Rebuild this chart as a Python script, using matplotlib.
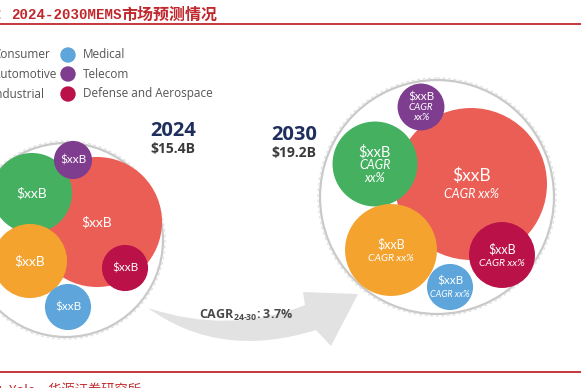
import numpy as np
import matplotlib
matplotlib.use("Agg")
import matplotlib.pyplot as plt
from matplotlib.patches import Circle, PathPatch
from matplotlib.path import Path

# ---------------- data ----------------
categories = ["Consumer", "Automotive", "Industrial", "Medical", "Telecom", "Defense and Aerospace"]
years = ["2024", "2030"]
totals = ["$15.4B", "$19.2B"]
cagr_total = "3.7%"
# estimated segment sizes ($B)
values_2024 = [7.55, 2.86, 2.45, 0.95, 0.65, 0.95]
values_2030 = [9.35, 2.92, 3.42, 0.86, 0.89, 1.76]
seg_label = "$xxB"
seg_cagr = "xx%"

# ---------------- style / layout ----------------
colors = ["#EB5E55", "#45B060", "#F4A32F", "#5DA5DA", "#7E3D8E", "#BA1149"]
centers_2024 = [(97, 222), (32, 193), (30, 261), (68, 307), (73, 160), (125, 268)]
centers_2030 = [(471, 184), (375, 164), (391, 250), (450, 287), (421, 107), (502, 255)]
scale_2024 = 23.66
scale_2030 = 24.85
ring_2024 = ((66, 240), 97)
ring_2030 = ((437, 197), 117)

RED = "#C0282D"
NAVY = "#1E2F5E"

fig = plt.figure(figsize=(5.81, 3.88), dpi=100)
ax = fig.add_axes([0, 0, 1, 1])
ax.set_xlim(0, 581)
ax.set_ylim(388, 0)
ax.set_aspect("equal")
ax.axis("off")

# title
ax.text(-4, 15, "：", color=RED, fontsize=10, family=["Noto Sans CJK SC"], va="center", ha="left")
ax.text(11, 15, "2024-2030MEMS", color=RED, fontsize=10.2, family=["Liberation Mono"],
        fontweight="bold", va="center", ha="left")
ax.text(121, 15, "市场预测情况", color=RED, fontsize=11.5, family=["Noto Sans CJK SC"],
        fontweight="bold", va="center", ha="left")
ax.plot([0, 581], [24, 24], color=RED, lw=1.3)
ax.plot([0, 581], [372, 372], color=RED, lw=1.3)
ax.text(-3, 391, "：Yole，华源证券研究所", color=RED, fontsize=9.5,
        family=["Noto Sans CJK SC", "DejaVu Sans"], va="center", ha="left")

# legend
leg_rows = [55, 74, 94]
for i in range(3):
    ax.add_patch(Circle((-20, leg_rows[i]), 7, color=colors[i]))
    ax.text(-7, leg_rows[i], categories[i], fontsize=8.5, color="#555555",
            family="Open Sans", va="center", ha="left")
    ax.add_patch(Circle((68, leg_rows[i]), 7, color=colors[i + 3]))
    ax.text(83, leg_rows[i], categories[i + 3], fontsize=8.5, color="#555555",
            family="Open Sans", va="center", ha="left")

# rings
for (c, r) in [ring_2024, ring_2030]:
    ax.add_patch(Circle(c, r, fill=False, edgecolor="#c9c9c9", lw=1.6))
    ax.add_patch(Circle(c, r + 2, fill=False, edgecolor="#e3e3e3", lw=1.0, ls=(0, (2, 2))))

# arrow (decorative swoosh)
verts = [(148, 308), (230, 335), (305, 305), (303, 292), (358, 294), (331, 346),
         (316, 330), (220, 360), (148, 308), (148, 308)]
codes = [Path.MOVETO, Path.CURVE3, Path.CURVE3, Path.LINETO, Path.LINETO, Path.LINETO,
         Path.LINETO, Path.CURVE3, Path.CURVE3, Path.CLOSEPOLY]
ax.add_patch(PathPatch(Path(verts, codes), facecolor="#e2e2e2", edgecolor="none"))

plt.rcParams["mathtext.fontset"] = "custom"
plt.rcParams["mathtext.rm"] = "Open Sans:bold"
ax.text(246, 315, r"CAGR$_{\mathrm{24\text{-}30}}$: " + cagr_total, fontsize=9, color="#4a4a4a",
        family="Open Sans", fontweight="bold", va="center", ha="center")

# bubbles 2024
main_fs_2024 = [10, 10, 10, 8.5, 8.5, 8.5]
for v, (cx, cy), col, fs in zip(values_2024, centers_2024, colors, main_fs_2024):
    r = scale_2024 * np.sqrt(v)
    ax.add_patch(Circle((cx, cy), r, color=col, lw=0))
    ax.text(cx, cy, seg_label.replace("$", r"\$"), color="white", fontsize=fs, family="Lato",
            va="center", ha="center")

# bubbles 2030
main_fs_2030 = [12.5, 10.5, 9, 8.5, 8.5, 9]
cagr_fs_2030 = [9, 9, 7.5, 6.5, 7, 7.5]
for i, (v, (cx, cy), col) in enumerate(zip(values_2030, centers_2030, colors)):
    r = scale_2030 * np.sqrt(v)
    ax.add_patch(Circle((cx, cy), r, color=col, lw=0))
    mfs, cfs = main_fs_2030[i], cagr_fs_2030[i]
    lab = seg_label.replace("$", r"\$")
    if i in (1, 4):  # three-line labels
        ax.text(cx, cy - mfs * 1.15, lab, color="white", fontsize=mfs, family="Lato",
                va="center", ha="center")
        ax.text(cx, cy + 1, "CAGR", color="white", fontsize=cfs, family="Lato", style="italic",
                va="center", ha="center")
        ax.text(cx, cy + cfs * 1.55, seg_cagr, color="white", fontsize=cfs, family="Lato",
                style="italic", va="center", ha="center")
    else:
        ax.text(cx, cy - mfs * 0.65, lab, color="white", fontsize=mfs, family="Lato",
                va="center", ha="center")
        ax.text(cx, cy + cfs * 1.1, "CAGR " + seg_cagr, color="white", fontsize=cfs,
                family="Lato", style="italic", va="center", ha="center")

# year / total labels
ax.text(173, 131, years[0], fontsize=14.5, color=NAVY, family="Open Sans", fontweight="bold",
        va="center", ha="center")
ax.text(173, 149, totals[0].replace("$", r"\$"), fontsize=10, color="#3a3a3a",
        family="Open Sans", fontweight="bold", va="center", ha="center")
ax.text(294, 135, years[1], fontsize=14.5, color=NAVY, family="Open Sans", fontweight="bold",
        va="center", ha="center")
ax.text(294, 153, totals[1].replace("$", r"\$"), fontsize=10, color="#3a3a3a",
        family="Open Sans", fontweight="bold", va="center", ha="center")

fig.savefig("out.png", dpi=100)
